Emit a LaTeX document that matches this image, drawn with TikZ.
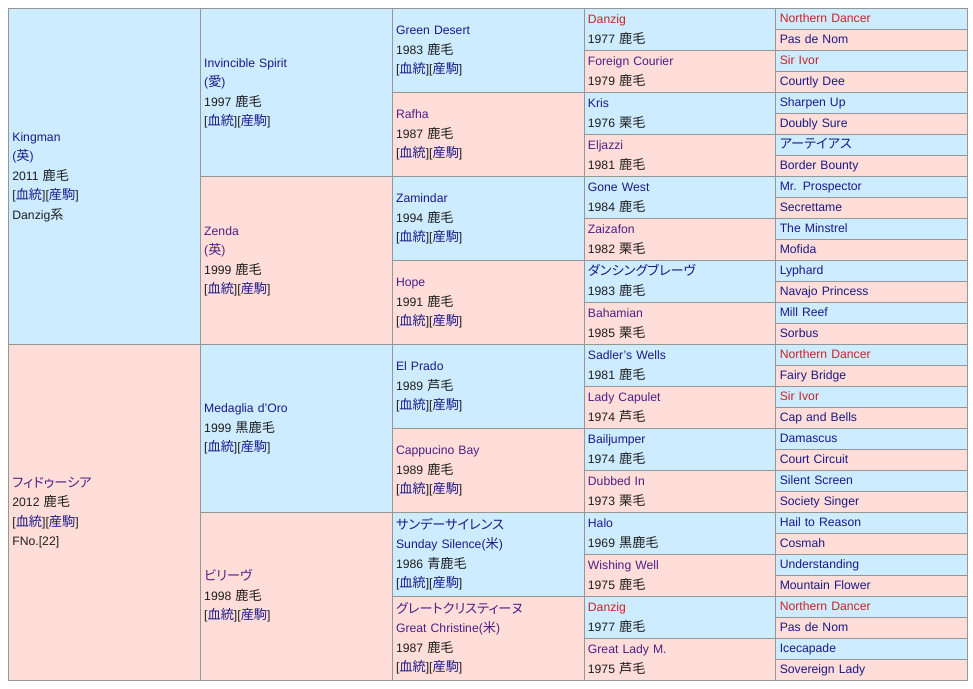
\documentclass[tikz,border=0pt]{standalone}
\usepackage{fontspec}
\setmainfont{Liberation Sans}
\newfontfamily\jpfont{Noto Sans CJK JP}[RawFeature=+palt, Scale=1.08]
\newcommand\JP[1]{{\jpfont #1}}
\definecolor{cblue}{RGB}{206,236,255}
\definecolor{cpink}{RGB}{255,221,216}
\definecolor{bord}{RGB}{150,150,150}
\definecolor{malec}{RGB}{26,26,135}
\definecolor{femc}{RGB}{72,34,135}
\definecolor{redc}{RGB}{204,34,34}
\definecolor{txtc}{RGB}{30,30,30}
\newcommand\Ml[1]{\textcolor{malec}{#1}}
\newcommand\Fl[1]{\textcolor{femc}{#1}}
\newcommand\Rd[1]{\textcolor{redc}{#1}}
\newcommand\lk{[\Ml{\JP{血統}}][\Ml{\JP{産駒}}]}
\tikzset{
  cellbase/.style={draw=bord, line width=0.8pt, anchor=north west, inner xsep=4pt, inner ysep=0pt,
    text width=183.84pt, align=left, font=\fontsize{12.2}{19.5}\selectfont, text=txtc,
    execute at begin node=\strut, execute at end node=\strut},
  sire/.style={cellbase, fill=cblue},
  dam/.style={cellbase, fill=cpink},
  g1/.style={minimum height=336pt},
  g2/.style={minimum height=168pt},
  g3/.style={minimum height=84pt},
  g4/.style={minimum height=42pt},
  g5/.style={minimum height=21pt},
}
\begin{document}
\begin{tikzpicture}[x=1pt,y=-1pt]
\useasboundingbox[fill=white] (0,0) rectangle (973,688);
% generation 1
\node[sire,g1] (a1) at (8,8) {\Ml{Kingman}\\\Ml{(\JP{英})}\\2011 \JP{鹿毛}\\\lk\\Danzig\JP{系}};
\node[dam,g1] (a2) at (8,344) {\Fl{\JP{フィドゥーシア}}\\2012 \JP{鹿毛}\\\lk\\FNo.[22]};
% generation 2
\node[sire,g2] (b1) at (199.84,8) {\Ml{Invincible Spirit}\\\Ml{(\JP{愛})}\\1997 \JP{鹿毛}\\\lk};
\node[dam,g2] (b2) at (199.84,176) {\Fl{Zenda}\\\Fl{(\JP{英})}\\1999 \JP{鹿毛}\\\lk};
\node[sire,g2] (b3) at (199.84,344) {\Ml{Medaglia d’Oro}\\1999 \JP{黒鹿毛}\\\lk};
\node[dam,g2] (b4) at (199.84,512) {\Fl{\JP{ビリーヴ}}\\1998 \JP{鹿毛}\\\lk};
% generation 3
\node[sire,g3] (c1) at (391.68,8) {\Ml{Green Desert}\\1983 \JP{鹿毛}\\\lk};
\node[dam,g3] (c2) at (391.68,92) {\Fl{Rafha}\\1987 \JP{鹿毛}\\\lk};
\node[sire,g3] (c3) at (391.68,176) {\Ml{Zamindar}\\1994 \JP{鹿毛}\\\lk};
\node[dam,g3] (c4) at (391.68,260) {\Fl{Hope}\\1991 \JP{鹿毛}\\\lk};
\node[sire,g3] (c5) at (391.68,344) {\Ml{El Prado}\\1989 \JP{芦毛}\\\lk};
\node[dam,g3] (c6) at (391.68,428) {\Fl{Cappucino Bay}\\1989 \JP{鹿毛}\\\lk};
\node[sire,g3] (c7) at (391.68,512) {\Ml{\JP{サンデーサイレンス}}\\\Ml{Sunday Silence(\JP{米})}\\1986 \JP{青鹿毛}\\\lk};
\node[dam,g3] (c8) at (391.68,596) {\Fl{\JP{グレートクリスティーヌ}}\\\Fl{Great Christine(\JP{米})}\\1987 \JP{鹿毛}\\\lk};
% generation 4
\node[sire,g4] (d1) at (583.52,8) {\Rd{Danzig}\\1977 \JP{鹿毛}};
\node[dam,g4] (d2) at (583.52,50) {\Fl{Foreign Courier}\\1979 \JP{鹿毛}};
\node[sire,g4] (d3) at (583.52,92) {\Ml{Kris}\\1976 \JP{栗毛}};
\node[dam,g4] (d4) at (583.52,134) {\Fl{Eljazzi}\\1981 \JP{鹿毛}};
\node[sire,g4] (d5) at (583.52,176) {\Ml{Gone West}\\1984 \JP{鹿毛}};
\node[dam,g4] (d6) at (583.52,218) {\Fl{Zaizafon}\\1982 \JP{栗毛}};
\node[sire,g4] (d7) at (583.52,260) {\Ml{\JP{ダンシングブレーヴ}}\\1983 \JP{鹿毛}};
\node[dam,g4] (d8) at (583.52,302) {\Fl{Bahamian}\\1985 \JP{栗毛}};
\node[sire,g4] (d9) at (583.52,344) {\Ml{Sadler’s Wells}\\1981 \JP{鹿毛}};
\node[dam,g4] (d10) at (583.52,386) {\Fl{Lady Capulet}\\1974 \JP{芦毛}};
\node[sire,g4] (d11) at (583.52,428) {\Ml{Bailjumper}\\1974 \JP{鹿毛}};
\node[dam,g4] (d12) at (583.52,470) {\Fl{Dubbed In}\\1973 \JP{栗毛}};
\node[sire,g4] (d13) at (583.52,512) {\Ml{Halo}\\1969 \JP{黒鹿毛}};
\node[dam,g4] (d14) at (583.52,554) {\Fl{Wishing Well}\\1975 \JP{鹿毛}};
\node[sire,g4] (d15) at (583.52,596) {\Rd{Danzig}\\1977 \JP{鹿毛}};
\node[dam,g4] (d16) at (583.52,638) {\Fl{Great Lady M.}\\1975 \JP{芦毛}};
% generation 5
\node[sire,g5] (e1) at (775.36,8) {\Rd{Northern Dancer}};
\node[dam,g5] (e2) at (775.36,29) {\Ml{Pas de Nom}};
\node[sire,g5] (e3) at (775.36,50) {\Rd{Sir Ivor}};
\node[dam,g5] (e4) at (775.36,71) {\Ml{Courtly Dee}};
\node[sire,g5] (e5) at (775.36,92) {\Ml{Sharpen Up}};
\node[dam,g5] (e6) at (775.36,113) {\Ml{Doubly Sure}};
\node[sire,g5] (e7) at (775.36,134) {\Ml{\JP{アーテイアス}}};
\node[dam,g5] (e8) at (775.36,155) {\Ml{Border Bounty}};
\node[sire,g5] (e9) at (775.36,176) {\Ml{Mr. Prospector}};
\node[dam,g5] (e10) at (775.36,197) {\Ml{Secrettame}};
\node[sire,g5] (e11) at (775.36,218) {\Ml{The Minstrel}};
\node[dam,g5] (e12) at (775.36,239) {\Ml{Mofida}};
\node[sire,g5] (e13) at (775.36,260) {\Ml{Lyphard}};
\node[dam,g5] (e14) at (775.36,281) {\Ml{Navajo Princess}};
\node[sire,g5] (e15) at (775.36,302) {\Ml{Mill Reef}};
\node[dam,g5] (e16) at (775.36,323) {\Ml{Sorbus}};
\node[sire,g5] (e17) at (775.36,344) {\Rd{Northern Dancer}};
\node[dam,g5] (e18) at (775.36,365) {\Ml{Fairy Bridge}};
\node[sire,g5] (e19) at (775.36,386) {\Rd{Sir Ivor}};
\node[dam,g5] (e20) at (775.36,407) {\Ml{Cap and Bells}};
\node[sire,g5] (e21) at (775.36,428) {\Ml{Damascus}};
\node[dam,g5] (e22) at (775.36,449) {\Ml{Court Circuit}};
\node[sire,g5] (e23) at (775.36,470) {\Ml{Silent Screen}};
\node[dam,g5] (e24) at (775.36,491) {\Ml{Society Singer}};
\node[sire,g5] (e25) at (775.36,512) {\Ml{Hail to Reason}};
\node[dam,g5] (e26) at (775.36,533) {\Ml{Cosmah}};
\node[sire,g5] (e27) at (775.36,554) {\Ml{Understanding}};
\node[dam,g5] (e28) at (775.36,575) {\Ml{Mountain Flower}};
\node[sire,g5] (e29) at (775.36,596) {\Rd{Northern Dancer}};
\node[dam,g5] (e30) at (775.36,617) {\Ml{Pas de Nom}};
\node[sire,g5] (e31) at (775.36,638) {\Ml{Icecapade}};
\node[dam,g5] (e32) at (775.36,659) {\Ml{Sovereign Lady}};
\end{tikzpicture}
\end{document}
